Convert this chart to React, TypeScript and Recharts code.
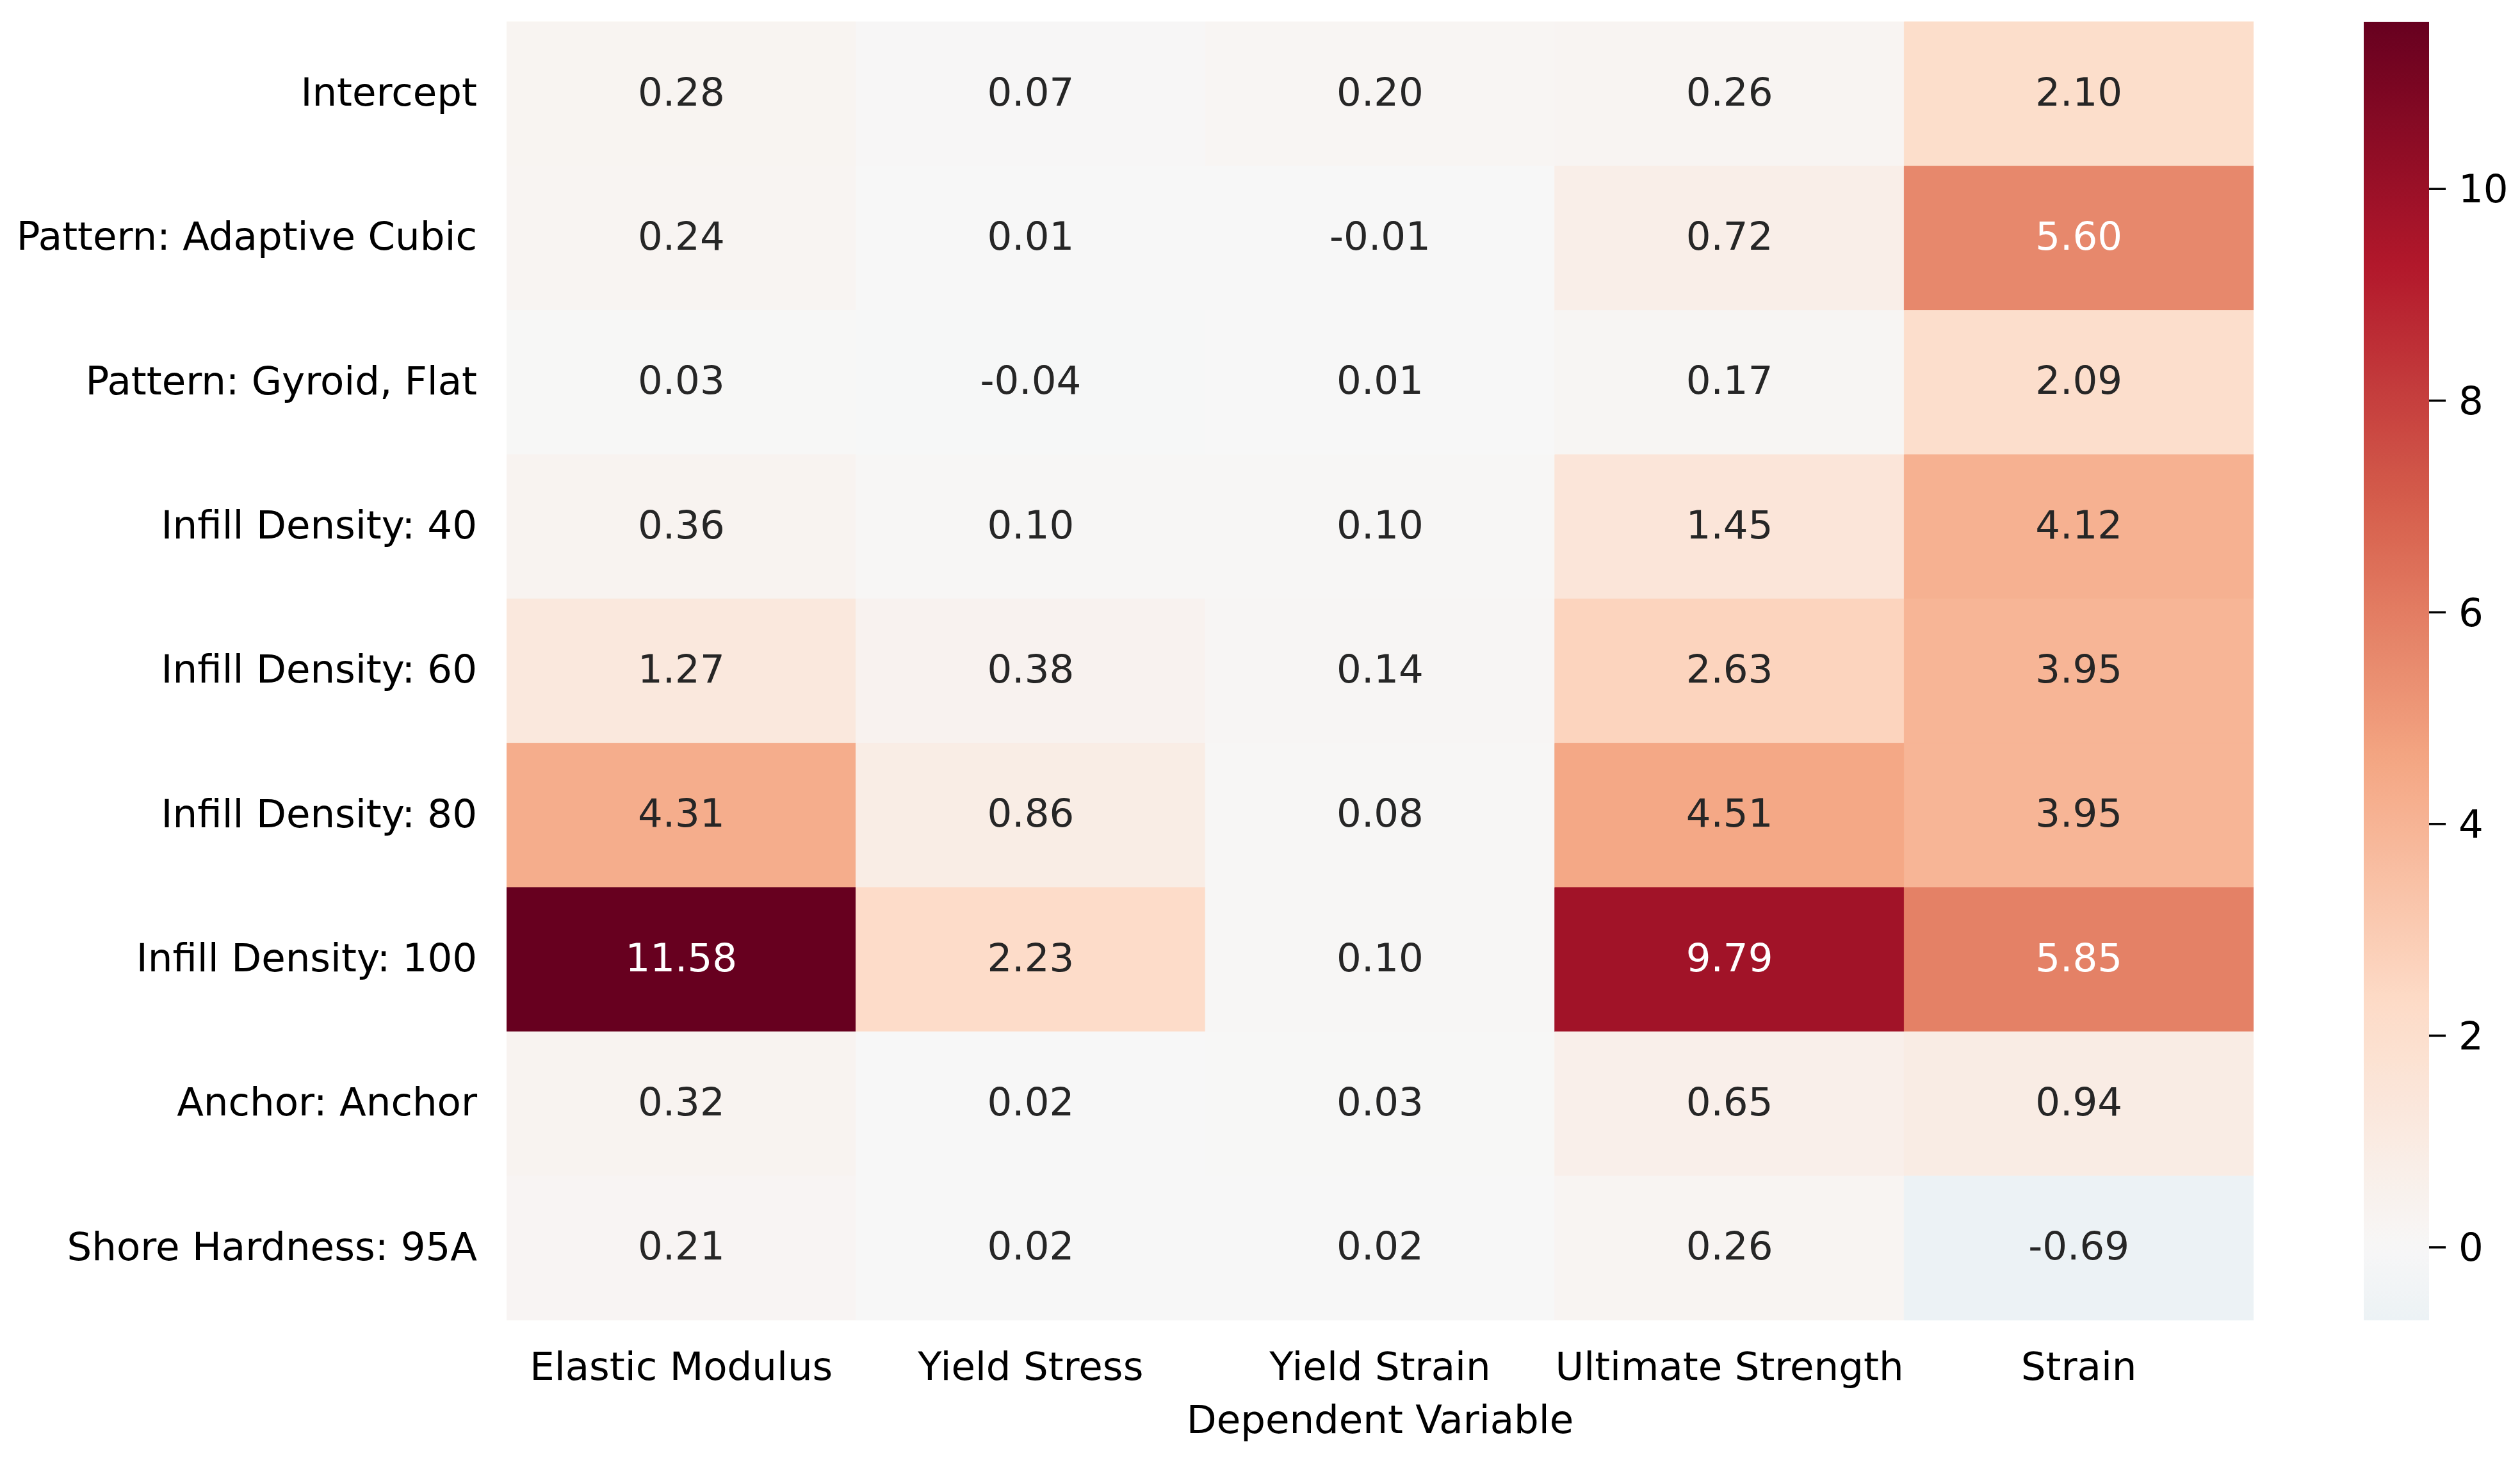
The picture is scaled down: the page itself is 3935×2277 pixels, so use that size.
import React from 'react';
import { BarChart, Bar, XAxis, YAxis, Cell, LabelList } from 'recharts';

const predictors = [
  'Intercept',
  'Pattern: Adaptive Cubic',
  'Pattern: Gyroid, Flat',
  'Infill Density: 40',
  'Infill Density: 60',
  'Infill Density: 80',
  'Infill Density: 100',
  'Anchor: Anchor',
  'Shore Hardness: 95A',
];
const dependentVariables = ['Elastic Modulus', 'Yield Stress', 'Yield Strain', 'Ultimate Strength', 'Strain'];
const elasticModulus = [0.28, 0.24, 0.03, 0.36, 1.27, 4.31, 11.58, 0.32, 0.21];
const yieldStress = [0.07, 0.01, -0.04, 0.1, 0.38, 0.86, 2.23, 0.02, 0.02];
const yieldStrain = [0.2, -0.01, 0.01, 0.1, 0.14, 0.08, 0.1, 0.03, 0.02];
const ultimateStrength = [0.26, 0.72, 0.17, 1.45, 2.63, 4.51, 9.79, 0.65, 0.26];
const strain = [2.1, 5.6, 2.09, 4.12, 3.95, 3.95, 5.85, 0.94, -0.69];
const colorbarTicks = [0, 2, 4, 6, 8, 10];
const axisTitle = 'Dependent Variable';

const seriesKeys = ['elasticModulus', 'yieldStress', 'yieldStrain', 'ultimateStrength', 'strain'];
const seriesValues = [elasticModulus, yieldStress, yieldStrain, ultimateStrength, strain];

const tableData = predictors.map((p, i) => {
  const row: any = { predictor: p };
  seriesKeys.forEach((k, j) => {
    row[k] = seriesValues[j][i];
  });
  return row;
});

const allValues = seriesValues.flat();
const vMin = Math.min(...allValues);
const vMax = Math.max(...allValues);
const vRange = Math.max(vMax, -vMin);

const RDBU = [
  [103, 0, 31],
  [178, 24, 43],
  [214, 96, 77],
  [244, 165, 130],
  [253, 219, 199],
  [247, 247, 247],
  [209, 229, 240],
  [146, 197, 222],
  [67, 147, 195],
  [33, 102, 172],
  [5, 48, 97],
];

function rdbuR(t: number): number[] {
  const tt = Math.max(0, Math.min(1, t));
  const s = (1 - tt) * 10;
  const i = Math.min(9, Math.floor(s));
  const f = s - i;
  const a = RDBU[i];
  const b = RDBU[i + 1];
  return a.map((c, k) => c + (b[k] - c) * f);
}

function rgbOf(v: number): number[] {
  return rdbuR((v + vRange) / (2 * vRange));
}

function colorOf(v: number): string {
  const [r, g, b] = rgbOf(v);
  return `rgb(${Math.round(r)},${Math.round(g)},${Math.round(b)})`;
}

function luminance(v: number): number {
  const lin = rgbOf(v).map((c) => {
    const x = c / 255;
    return x <= 0.03928 ? x / 12.92 : Math.pow((x + 0.055) / 1.055, 2.4);
  });
  return 0.2126 * lin[0] + 0.7152 * lin[1] + 0.0722 * lin[2];
}

const FONT = 'DejaVu Sans';
const FS = 61;

const renderCellLabel = (props: any) => {
  const vb = props.viewBox || {};
  const x = vb.x ?? props.x;
  const y = vb.y ?? props.y;
  const w = vb.width ?? props.width;
  const h = vb.height ?? props.height;
  const v = Number(props.value);
  if (x == null || y == null || isNaN(v)) return null;
  return (
    <text
      x={x + w / 2}
      y={y + h / 2}
      dy="0.3em"
      textAnchor="middle"
      fontFamily={FONT}
      fontSize={FS}
      fill={luminance(v) > 0.408 ? '#262626' : '#ffffff'}
    >
      {v.toFixed(2)}
    </text>
  );
};

const YTick = (props: any) => {
  const { x, y, payload } = props;
  return (
    <text x={x} y={y} dy="0.3em" textAnchor="end" fontFamily={FONT} fontSize={FS} fill="#000">
      {payload.value}
    </text>
  );
};

const xTicks = dependentVariables.map((_, i) => i + 0.5);

function Colorbar() {
  const cbX = 3691;
  const cbW = 102;
  const cbTop = 34;
  const cbBottom = 2062;
  const yOf = (v: number) => cbTop + ((vMax - v) / (vMax - vMin)) * (cbBottom - cbTop);
  const stops = Array.from({ length: 81 }, (_, i) => {
    const f = i / 80;
    const v = vMax - f * (vMax - vMin);
    return <stop key={i} offset={f} stopColor={colorOf(v)} />;
  });
  return (
    <svg
      width={3935}
      height={2277}
      style={{ position: 'absolute', left: 0, top: 0, pointerEvents: 'none' }}
    >
      <defs>
        <linearGradient id="cbgrad" x1="0" y1="0" x2="0" y2="1">
          {stops}
        </linearGradient>
      </defs>
      <rect x={cbX} y={cbTop} width={cbW} height={cbBottom - cbTop} fill="url(#cbgrad)" />
      {colorbarTicks.map((t) => (
        <g key={t}>
          <line x1={cbX + cbW} x2={cbX + cbW + 26} y1={yOf(t)} y2={yOf(t)} stroke="#000" strokeWidth={3.5} />
          <text x={cbX + cbW + 46} y={yOf(t)} dy="0.35em" fontFamily={FONT} fontSize={FS} fill="#000">
            {t}
          </text>
        </g>
      ))}
    </svg>
  );
}

export default function App() {
  return (
    <div
      style={{
        position: 'absolute',
        left: 0,
        top: 0,
        width: 3935,
        height: 2277,
        background: '#ffffff',
        fontFamily: FONT,
      }}
    >
      <BarChart
        width={3935}
        height={2277}
        data={tableData}
        layout="vertical"
        barCategoryGap={0}
        barGap={0}
        margin={{ top: 34, right: 416, bottom: 0, left: 0 }}
      >
        <XAxis
          type="number"
          domain={[0, dependentVariables.length]}
          ticks={xTicks}
          interval={0}
          tickFormatter={(v: number) => dependentVariables[Math.floor(v)]}
          axisLine={false}
          tickLine={false}
          tickSize={0}
          tickMargin={50}
          height={215}
          tick={{ fontSize: FS, fill: '#000', fontFamily: FONT }}
          label={{ value: axisTitle, position: 'insideBottom', offset: 39, fontSize: FS, fill: '#000', fontFamily: FONT }}
          allowDataOverflow
        />
        <YAxis
          type="category"
          dataKey="predictor"
          width={791}
          interval={0}
          axisLine={false}
          tickLine={false}
          tickSize={0}
          tickMargin={46}
          tick={<YTick />}
        />
        {seriesKeys.map((k) => (
          <Bar key={k} dataKey={() => 1} stackId="cells" isAnimationActive={false}>
            {tableData.map((row, i) => (
              <Cell key={i} fill={colorOf(row[k])} stroke={colorOf(row[k])} strokeWidth={1} />
            ))}
            <LabelList dataKey={k} content={renderCellLabel} />
          </Bar>
        ))}
      </BarChart>
      <Colorbar />
    </div>
  );
}
